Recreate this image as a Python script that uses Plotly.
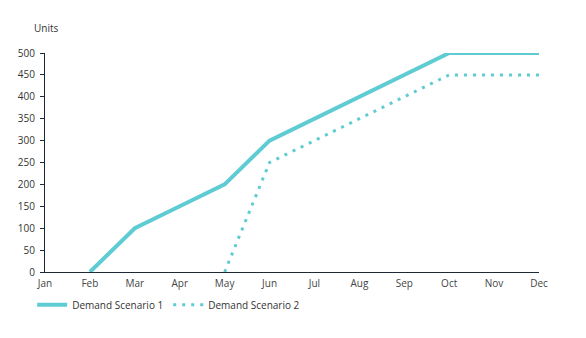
import plotly.graph_objects as go

months = ["Jan", "Feb", "Mar", "Apr", "May", "Jun", "Jul", "Aug", "Sep", "Oct", "Nov", "Dec"]
scenario1 = [None, 0, 100, 150, 200, 300, 350, 400, 450, 500, 500, 500]
scenario2 = [None, None, None, None, 0, 250, 300, 350, 400, 450, 450, 450]
y_ticks = [0, 50, 100, 150, 200, 250, 300, 350, 400, 450, 500]

color = "#5ECCD2"
font = "Open Sans, DejaVu Sans, sans-serif"

fig = go.Figure()
fig.add_trace(go.Scatter(x=months, y=scenario1, mode="lines", name="Demand Scenario 1",
                         line=dict(color=color, width=4)))
fig.add_trace(go.Scatter(x=months, y=scenario2, mode="lines", name="Demand Scenario 2",
                         line=dict(color=color, width=3, dash="3px,6px")))

fig.update_layout(
    width=586, height=338,
    margin=dict(l=45, r=47, t=53, b=66),
    paper_bgcolor="white", plot_bgcolor="white",
    font=dict(family=font, size=10, color="#333333"),
    showlegend=True,
    legend=dict(orientation="h", x=-0.026, xanchor="left", y=-0.083, yanchor="top",
                font=dict(size=10, color="#333333")),
    xaxis=dict(type="category", range=[0, 11], showgrid=False, zeroline=False,
               showline=True, linecolor="#1f2a36", linewidth=1, ticks="",
               ticklabelstandoff=2,
               tickfont=dict(size=10, color="#444444")),
    yaxis=dict(range=[0, 500], tickvals=y_ticks, showgrid=False, zeroline=False,
               showline=True, linecolor="#1f2a36", linewidth=1, ticks="outside",
               ticklen=4, tickcolor="#1f2a36", ticklabelstandoff=3,
               tickfont=dict(size=10, color="#333333")),
    annotations=[dict(text="Units", x=0, xref="paper", xanchor="left", xshift=-13,
                      y=1, yref="paper", yanchor="bottom", yshift=16, showarrow=False,
                      font=dict(size=10, color="#333333"))],
)

fig.write_html("out.html")
